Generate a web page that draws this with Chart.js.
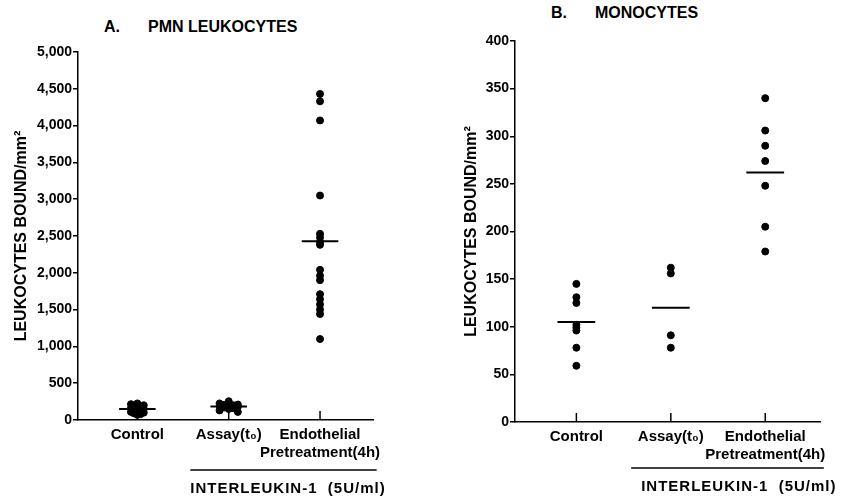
<!DOCTYPE html>
<html>
<head>
<meta charset="utf-8">
<script src="https://cdn.jsdelivr.net/npm/chart.js@4.4.0/dist/chart.umd.min.js"></script>
<style>
  body { margin: 0; background: #fff; width: 847px; height: 497px; position: relative; overflow: hidden;
         font-family: "Liberation Sans", Arial, sans-serif; font-weight: bold; color: #000; }
  .panel { position: absolute; top: 0; height: 497px; }
  .title { position: absolute; font-size: 16px; white-space: nowrap; line-height: 18px; }
</style>
</head>
<body>
<div class="title" style="left:104px;top:18px">A.</div>
<div class="title" style="left:148px;top:18px">PMN LEUKOCYTES</div>
<div class="title" style="left:551px;top:4px">B.</div>
<div class="title" style="left:595px;top:4px">MONOCYTES</div>
<div class="panel" style="left:0;width:430px"><canvas id="pmnChart"></canvas></div>
<div class="panel" style="left:430px;width:417px"><canvas id="monoChart"></canvas></div>
<script>
const categories = ["Control", "Assay(t₀)", ["Endothelial", "Pretreatment(4h)"]];
const groupLabel = "INTERLEUKIN-1  (5U/ml)";

// A. PMN leukocytes bound/mm²
const pmnControl = [225, 215, 200, 190, 180, 170, 160, 150, 140, 130, 120, 110, 100, 90, 80, 70];
const pmnAssay = [255, 225, 210, 205, 200, 195, 190, 180, 170, 160, 150, 130, 110];
const pmnEndothelial = [4430, 4330, 4070, 3050, 2530, 2480, 2420, 2380, 2040, 1960, 1900, 1710, 1640, 1570, 1500, 1440, 1100];
const pmnMeans = [150, 182, 2430];
const pmnTicks = [0, 500, 1000, 1500, 2000, 2500, 3000, 3500, 4000, 4500, 5000];

// B. Monocytes bound/mm²
const monoControl = [145, 131, 125, 102, 99, 96, 78, 59];
const monoAssay = [162, 156, 91, 78];
const monoEndothelial = [340, 306, 290, 274, 248, 205, 179];
const monoMeans = [105, 120, 262];
const monoTicks = [0, 50, 100, 150, 200, 250, 300, 350, 400];

const FONT = "'Liberation Sans', Arial, sans-serif";

// spread overlapping dots a little sideways
function place(values, group, spread) {
  const pattern = [0, -1, 1, -0.5, 0.5];
  return values.map((v, i) => ({ x: group + pattern[i % pattern.length] * spread, y: v }));
}

function meanLine(m, group) {
  return {
    type: 'line',
    data: [{ x: group - 0.2, y: m }, { x: group + 0.2, y: m }],
    borderColor: '#000',
    borderWidth: 2,
    pointRadius: 0,
    fill: false
  };
}

const innerTicks = {
  id: 'innerTicks',
  afterDraw(chart) {
    const { ctx, chartArea, scales } = chart;
    ctx.save();
    ctx.strokeStyle = '#000';
    ctx.lineWidth = 1.5;
    [1, 2, 3].forEach(v => {
      const x = scales.x.getPixelForValue(v);
      ctx.beginPath();
      ctx.moveTo(x, chartArea.bottom);
      ctx.lineTo(x, chartArea.bottom - 9);
      ctx.stroke();
    });
    ctx.restore();
  }
};

const bracket = {
  id: 'bracket',
  afterDraw(chart, args, opts) {
    const { ctx, chartArea, scales } = chart;
    const x1 = scales.x.getPixelForValue(opts.from);
    const x2 = scales.x.getPixelForValue(opts.to);
    const y = chartArea.bottom + opts.lineOffset;
    ctx.save();
    ctx.strokeStyle = '#000';
    ctx.lineWidth = 1.5;
    ctx.beginPath();
    ctx.moveTo(x1, y);
    ctx.lineTo(x2, y);
    ctx.stroke();
    ctx.fillStyle = '#000';
    ctx.font = "bold 15px " + FONT;
    ctx.letterSpacing = '1px';
    ctx.textBaseline = 'middle';
    ctx.fillText(opts.text, x1 + opts.textShift, y + 19);
    ctx.restore();
  }
};

function makeChart(id, cfg) {
  const datasets = [
    {
      type: 'scatter',
      data: [].concat(
        place(cfg.control, 1, cfg.spread[0]),
        place(cfg.assay, 2, cfg.spread[1]),
        place(cfg.endo, 3, cfg.spread[2])
      ),
      backgroundColor: '#000',
      borderColor: '#000',
      pointRadius: 3.5,
      pointHoverRadius: 3.5
    }
  ].concat(cfg.means.map((m, i) => meanLine(m, i + 1)));

  return new Chart(document.getElementById(id), {
    type: 'scatter',
    data: { datasets },
    plugins: [innerTicks, bracket],
    options: {
      responsive: true,
      maintainAspectRatio: false,
      animation: false,
      layout: { padding: { left: cfg.padLeft, right: cfg.padRight, top: cfg.top, bottom: 0 } },
      plugins: {
        legend: { display: false },
        tooltip: { enabled: false },
        bracket: { from: 1.58, to: 3.62, lineOffset: cfg.lineOffset, text: groupLabel, textShift: cfg.textShift }
      },
      scales: {
        x: {
          type: 'linear',
          min: 0.35,
          max: 3.58,
          afterBuildTicks: s => { s.ticks = [1, 2, 3].map(v => ({ value: v })); },
          afterFit: s => { s.height = cfg.xHeight; },
          grid: { drawOnChartArea: false, drawTicks: false },
          border: { color: '#000', width: 1.5 },
          ticks: {
            padding: 6,
            color: '#000',
            font: { family: FONT, weight: 'bold', size: 15 },
            maxRotation: 0,
            callback: v => categories[v - 1]
          }
        },
        y: {
          min: 0,
          max: cfg.ticks[cfg.ticks.length - 1],
          afterBuildTicks: s => { s.ticks = cfg.ticks.map(v => ({ value: v })); },
          afterFit: s => { s.width = cfg.yWidth; },
          grid: { drawOnChartArea: false, tickLength: 5, color: '#000', lineWidth: 1.5 },
          border: { color: '#000', width: 1.5 },
          title: {
            display: true,
            text: 'LEUKOCYTES BOUND/mm²',
            color: '#000',
            padding: 0,
            font: { family: FONT, weight: 'bold', size: 16 }
          },
          ticks: {
            padding: 1,
            color: '#000',
            font: { family: FONT, weight: 'bold', size: 14 },
            callback: v => v.toLocaleString('en-US')
          }
        }
      }
    }
  });
}

makeChart('pmnChart', {
  control: pmnControl, assay: pmnAssay, endo: pmnEndothelial, means: pmnMeans,
  ticks: pmnTicks, spread: [0.07, 0.1, 0],
  padLeft: 12, yWidth: 66, padRight: 57, top: 52, xHeight: 77,
  lineOffset: 50, textShift: 0
});

makeChart('monoChart', {
  control: monoControl, assay: monoAssay, endo: monoEndothelial, means: monoMeans,
  ticks: monoTicks, spread: [0, 0, 0],
  padLeft: 32, yWidth: 53, padRight: 27, top: 41, xHeight: 75,
  lineOffset: 46, textShift: 10
});
</script>
</body>
</html>
